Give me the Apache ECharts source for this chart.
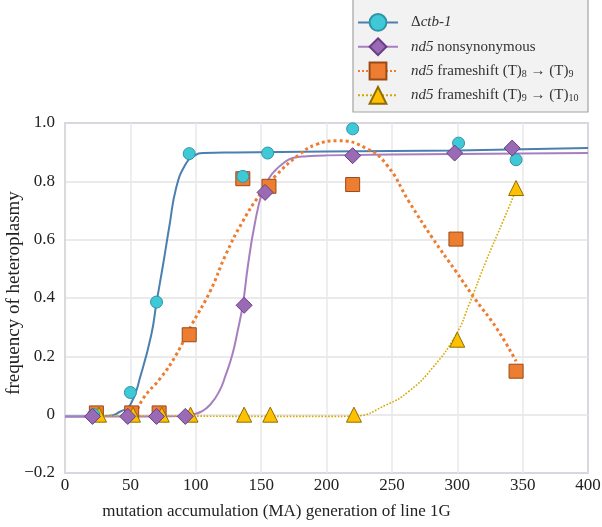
<!DOCTYPE html>
<html><head><meta charset="utf-8">
<script src="https://cdn.jsdelivr.net/npm/echarts@6/dist/echarts.min.js"></script>
<style>html,body{margin:0;padding:0;background:#fff}#c{width:602px;height:527px}</style>
</head><body><div id="c"></div>
<script>
// ---- data ----
const seriesNames = ['ctb', 'nonsyn', 'fs8', 'fs9'];
const xTicks = [0, 50, 100, 150, 200, 250, 300, 350, 400];
const yTicks = [-0.2, 0, 0.2, 0.4, 0.6, 0.8, 1.0];

// observed points
const ctbX = [22, 50, 70, 95, 136, 155, 220, 301, 345];
const ctbY = [0.0, 0.076, 0.386, 0.895, 0.817, 0.897, 0.98, 0.931, 0.874];
const nonsynX = [21, 48, 70, 92, 137, 153, 220, 298, 342];
const nonsynY = [-0.006, -0.006, -0.006, -0.006, 0.375, 0.762, 0.888, 0.897, 0.914];
const fs8X = [24, 51, 72, 95, 136, 156, 220, 299, 345];
const fs8Y = [0.006, 0.006, 0.006, 0.274, 0.809, 0.783, 0.789, 0.602, 0.149];
const fs9X = [26, 52, 74, 96, 137, 157, 221, 300, 345];
const fs9Y = [0, 0, 0, 0, 0, 0, 0, 0.257, 0.777];

// fitted curves
const ctbFitX = [0, 20, 34, 42, 50, 58, 66, 70, 75, 80, 85, 92, 99, 106, 130, 200, 300, 400];
const ctbFitY = [-0.006, -0.006, -0.004, 0.01, 0.034, 0.137, 0.274, 0.385, 0.514, 0.651, 0.777, 0.857, 0.888, 0.897, 0.899, 0.902, 0.906, 0.914];
const nonsynFitX = [0, 50, 90, 97, 104, 111, 118, 123, 128, 132, 136, 140, 145, 151, 156, 160, 167, 174, 185, 200, 300, 400];
const nonsynFitY = [-0.006, -0.006, -0.005, 0.0, 0.01, 0.034, 0.08, 0.137, 0.206, 0.286, 0.377, 0.514, 0.651, 0.766, 0.81, 0.834, 0.862, 0.88, 0.886, 0.889, 0.894, 0.897];
const fs8FitX = [54, 60, 73, 85, 97, 111, 123, 136, 149, 162, 179, 192, 209, 230, 246, 263, 281, 299, 314, 330, 345];
const fs8FitY = [0.0, 0.057, 0.125, 0.205, 0.309, 0.423, 0.549, 0.663, 0.754, 0.823, 0.891, 0.926, 0.939, 0.914, 0.857, 0.731, 0.606, 0.491, 0.394, 0.297, 0.183];
const fs9FitX = [25, 100, 150, 200, 221, 246, 263, 281, 299, 309, 322, 335, 345];
const fs9FitY = [-0.004, -0.005, -0.006, -0.006, -0.005, 0.034, 0.08, 0.16, 0.274, 0.377, 0.526, 0.663, 0.771];

const legendLabels = {
  ctb: '{d|Δ}{i|ctb-1}',
  nonsyn: '{i|nd5} nonsynonymous',
  fs8: '{i|nd5} frameshift (T){s|8} → (T){s|9}',
  fs9: '{i|nd5} frameshift (T){s|9} → (T){s|10}'
};

// ---- styles ----
const FONT = 'Liberation Serif';
const st = {
  ctb:    {line: '#4a7fb0', lw: 2,   type: 'solid',  sym: 'circle',   size: 12, fill: '#3fc9d6', border: '#2f93a8', symLegend: 18},
  nonsyn: {line: '#a77fc0', lw: 2,   type: 'solid',  sym: 'diamond',  size: 16, fill: '#9a6ab4', border: '#6a3c88', symLegend: 18},
  fs8:    {line: '#ed7d31', lw: 3,   type: 'dotted', sym: 'rect',     size: 14, fill: '#ed7d31', border: '#9a4a17', symLegend: 16},
  fs9:    {line: '#d4a900', lw: 1.6, type: 'dotted', sym: 'triangle', size: 15, fill: '#ffc000', border: '#8f6d00', symLegend: 17}
};
const fits = {ctb: [ctbFitX, ctbFitY], nonsyn: [nonsynFitX, nonsynFitY], fs8: [fs8FitX, fs8FitY], fs9: [fs9FitX, fs9FitY]};
const pts = {ctb: [ctbX, ctbY], nonsyn: [nonsynX, nonsynY], fs8: [fs8X, fs8Y], fs9: [fs9X, fs9Y]};
const zip = (a, b) => a.map((v, i) => [v, b[i]]);

const series = [];
seriesNames.forEach(k => {
  const s = st[k];
  series.push({
    name: k, type: 'line', data: zip(fits[k][0], fits[k][1]),
    smooth: 0.5, showSymbol: false,
    symbol: s.sym, symbolSize: s.symLegend,
    itemStyle: {color: s.fill, borderColor: s.border, borderWidth: 1},
    lineStyle: {color: s.line, width: s.lw, type: s.type},
    z: 2, silent: true
  });
});
const markerOrder = ['fs8', 'fs9', 'ctb', 'nonsyn'];
markerOrder.forEach((k, i) => {
  const s = st[k];
  series.push({
    name: k, type: 'scatter', data: zip(pts[k][0], pts[k][1]),
    symbol: s.sym, symbolSize: s.size,
    itemStyle: {color: s.fill, borderColor: s.border, borderWidth: 1, opacity: 1},
    z: 3 + i, silent: true
  });
});

const chart = echarts.init(document.getElementById('c'), null, {renderer: 'canvas'});
chart.setOption({
  animation: false,
  backgroundColor: '#fff',
  textStyle: {fontFamily: FONT},
  grid: {left: 65, right: 14, top: 123, bottom: 54, show: true, borderColor: '#8a5bb0', borderWidth: 1.2, backgroundColor: 'transparent', containLabel: false, outerBoundsMode: 'none'},
  graphic: [{type: 'rect', shape: {x: 353, y: -1, width: 235, height: 113}, style: {fill: '#f2f2f2', stroke: '#a3a3a3', lineWidth: 1.2}, z: 1}],
  legend: {
    orient: 'vertical', left: 352, top: 8, z: 5,
    itemWidth: 40, itemHeight: 21, itemGap: 5.5,
    data: seriesNames,
    formatter: n => legendLabels[n],
    textStyle: {
      fontFamily: FONT, fontSize: 15, color: '#333', padding: [0, 0, 0, 8], lineHeight: 16,
      rich: {
        i: {fontFamily: FONT, fontStyle: 'italic', fontSize: 15, color: '#333', lineHeight: 16},
        d: {fontFamily: FONT, fontSize: 15, color: '#333', lineHeight: 16},
        s: {fontFamily: FONT, fontSize: 10, color: '#333', lineHeight: 8, verticalAlign: 'bottom'}
      }
    }
  },
  xAxis: {
    type: 'value', min: 0, max: 400, interval: 50,
    name: 'mutation accumulation (MA) generation of line 1G', nameLocation: 'middle', nameGap: 30,
    nameMoveOverlap: false,
    nameTextStyle: {fontFamily: FONT, fontSize: 17, color: '#222', padding: [0, 100, 0, 0]},
    axisLine: {show: false}, axisTick: {show: false},
    axisLabel: {fontFamily: FONT, fontSize: 17, color: '#222', margin: 4},
    splitLine: {show: true, lineStyle: {color: '#e8e8e8', width: 1.5}}
  },
  yAxis: {
    type: 'value', min: -0.2, max: 1.0, interval: 0.2,
    name: 'frequency of heteroplasmy', nameLocation: 'middle', nameGap: 41,
    nameMoveOverlap: false,
    nameTextStyle: {fontFamily: FONT, fontSize: 19, color: '#222', padding: [0, 0, 0, 10]},
    axisLine: {show: true, lineStyle: {color: '#dcdcdc', width: 1.2}}, axisTick: {show: false},
    axisLabel: {fontFamily: FONT, fontSize: 17, color: '#222', margin: 10,
      formatter: v => { const r = Math.round(v * 10) / 10; if (r === 0) return '0'; return (r < 0 ? '−' : '') + Math.abs(r).toFixed(1); }},
    splitLine: {show: true, lineStyle: {color: '#e3e3e3', width: 1.5}}
  },
  series: series
});
</script>
</body></html>
